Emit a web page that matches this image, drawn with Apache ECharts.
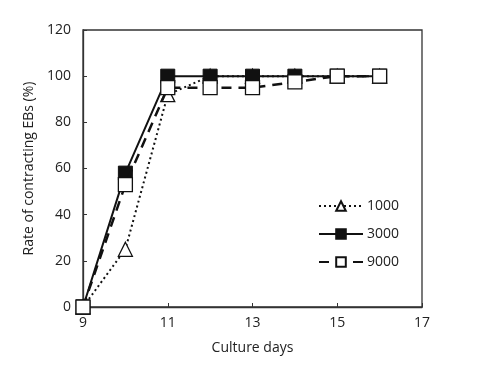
<!DOCTYPE html>
<html><head><meta charset="utf-8">
<script src="https://cdn.jsdelivr.net/npm/echarts@6/dist/echarts.min.js"></script>
<style>html,body{margin:0;padding:0;background:#fff}#c{width:500px;height:368px}</style>
</head><body><div id="c"></div>
<script>
const days = [9, 10, 11, 12, 13, 14, 15, 16];
const xTicks = [9, 11, 13, 15, 17];
const s1000 = [0, 25, 92, 100, 100, 100, 100, 100];
const s3000 = [0, 58, 100, 100, 100, 100, 100, 100];
const s9000 = [0, 53, 95, 95, 95, 97.5, 100, 100];
const names = ['1000', '3000', '9000'];

const pairs = a => days.map((d, i) => [d, a[i]]);
const font = '"Open Sans", sans-serif';
const txt = '#222';
const fs = 14;
const chart = echarts.init(document.getElementById('c'), null, {renderer: 'canvas'});
chart.setOption({
  animation: false,
  backgroundColor: '#fff',
  grid: {left: 83, right: 78, top: 30, bottom: 61, show: true, borderColor: '#333', borderWidth: 1.3, containLabel: false},
  legend: {
    orient: 'vertical', left: 313, top: 194, itemWidth: 44, itemHeight: 12, itemGap: 14,
    textStyle: {color: txt, fontSize: fs, fontFamily: font, padding: [0, 0, 0, -1]},
    data: names
  },
  xAxis: {
    type: 'value', min: 9, max: 17,
    name: 'Culture days', nameLocation: 'middle', nameGap: 34,
    nameTextStyle: {color: txt, fontSize: fs, fontFamily: font},
    axisLine: {lineStyle: {color: '#333', width: 1.3}},
    axisTick: {inside: true, length: 4, customValues: xTicks, lineStyle: {color: '#333'}},
    axisLabel: {customValues: xTicks, color: txt, fontSize: fs, fontFamily: font, margin: 9},
    splitLine: {show: false}
  },
  yAxis: {
    type: 'value', min: 0, max: 120, interval: 20,
    name: 'Rate of contracting EBs (%)', nameLocation: 'middle', nameGap: 41,
    nameTextStyle: {color: txt, fontSize: fs, fontFamily: font},
    axisLine: {show: true, lineStyle: {color: '#333', width: 1.3}},
    axisTick: {show: true, inside: true, length: 4, lineStyle: {color: '#333'}},
    axisLabel: {color: txt, fontSize: fs, fontFamily: font, margin: 12},
    splitLine: {show: false}
  },
  series: [
    {name: names[0], type: 'line', data: pairs(s1000), symbol: 'triangle', symbolSize: 14, z: 2,
     lineStyle: {color: '#111', width: 2, type: [2, 3]},
     itemStyle: {color: '#fff', borderColor: '#111', borderWidth: 1.3}},
    {name: names[1], type: 'line', data: pairs(s3000), symbol: 'rect', symbolSize: 14, z: 3,
     lineStyle: {color: '#111', width: 2},
     itemStyle: {color: '#111', borderColor: '#111', borderWidth: 1}},
    {name: names[2], type: 'line', data: pairs(s9000), symbol: 'rect', symbolSize: 14, z: 4,
     lineStyle: {color: '#111', width: 2.5, type: [10, 7]},
     itemStyle: {color: '#fff', borderColor: '#111', borderWidth: 1.3}}
  ]
});
</script></body></html>
